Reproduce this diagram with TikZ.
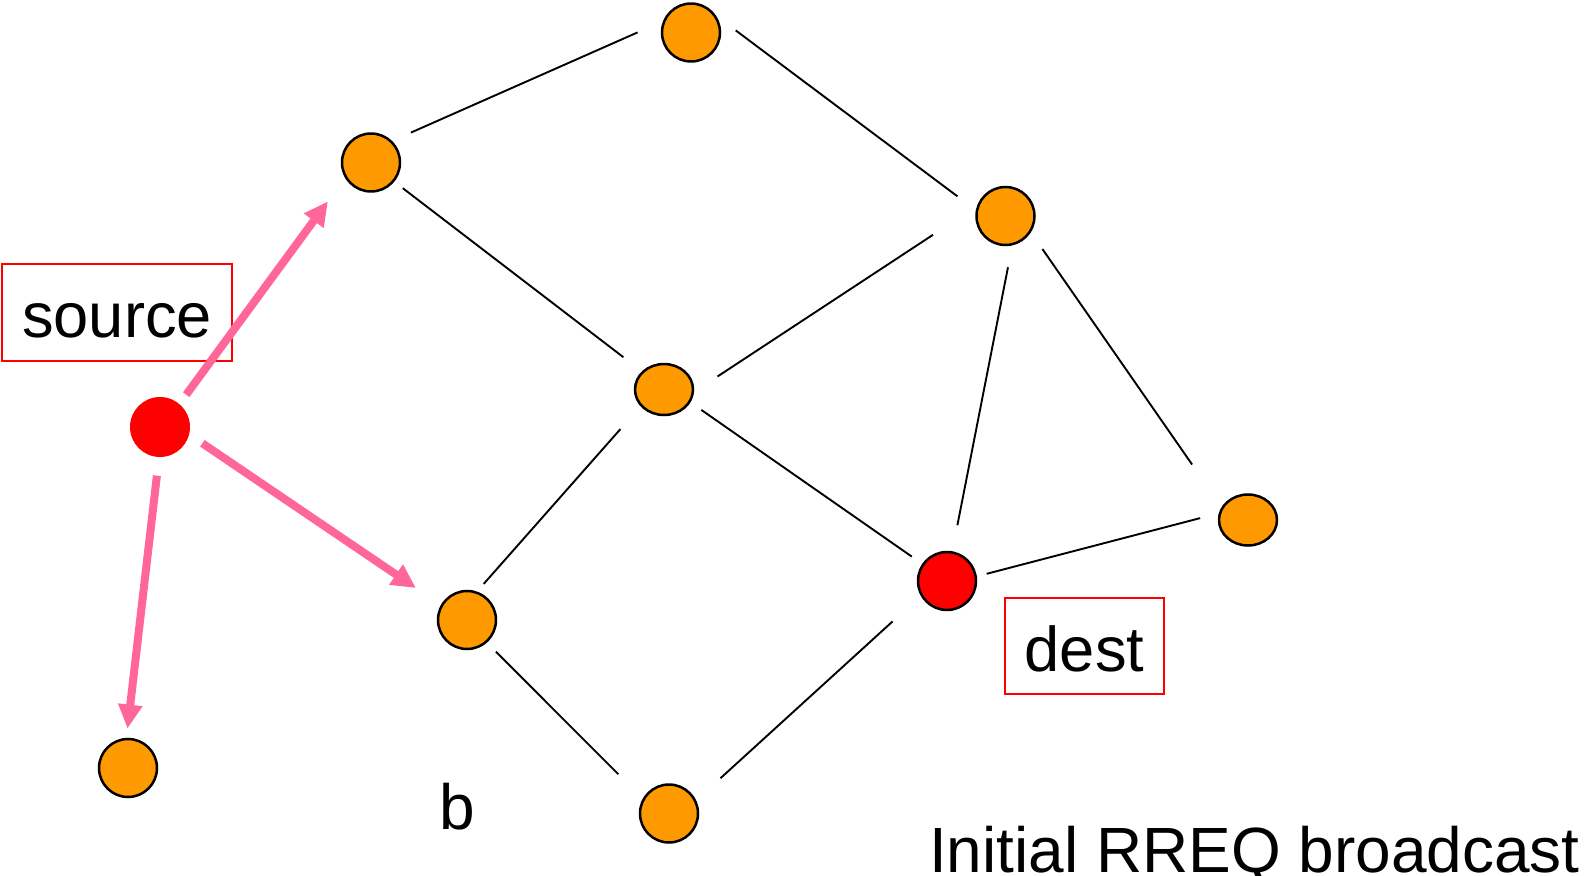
\documentclass[tikz,border=0pt]{standalone}
\usepackage{fontspec}
\setmainfont{Liberation Sans}
\usetikzlibrary{arrows.meta,shapes.geometric,calc}
\definecolor{nodeorange}{RGB}{255,153,0}
\definecolor{arrowpink}{RGB}{255,102,153}
\begin{document}
\begin{tikzpicture}[x=0.02cm,y=-0.02cm,
  host/.style={circle,draw=black,line width=0.05cm,fill=nodeorange,minimum size=1.16cm,inner sep=0pt},
  ovalhost/.style={ellipse,draw=black,line width=0.05cm,fill=nodeorange,minimum width=1.16cm,minimum height=1.02cm,inner sep=0pt},
  endpoint/.style={circle,fill=red,minimum size=1.2cm,inner sep=0pt},
  link/.style={draw=black,line width=0.038cm},
  flood/.style={draw=arrowpink,line width=0.16cm,-{Triangle[length=0.48cm,width=0.46cm]}},
  tag/.style={draw=red,line width=0.035cm,inner sep=0pt,text height=1.02cm,text depth=0cm,font=\fontsize{36}{43}\selectfont},
  caption/.style={font=\fontsize{36.4}{44}\selectfont,inner sep=0pt}
]
\useasboundingbox (0,0) rectangle (1587,876);

% hosts
\node[host] (T) at (691,32.5) {};
\node[host] (A) at (371,162.5) {};
\node[host] (RU) at (1005.5,216) {};
\node[ovalhost] (M) at (664,389.5) {};
\node[ovalhost] (FR) at (1248,520) {};
\node[host] (LL) at (467,620) {};
\node[host] (B) at (669,813.5) {};
\node[host] (BL) at (128,768) {};
\node[endpoint] (S) at (160,427) {};
\node[endpoint,draw=black,line width=0.05cm,minimum size=1.16cm] (D) at (947,581) {};

% labels
\node[tag,minimum width=4.6cm,minimum height=1.94cm] (srclabel) at (117,312.5) {source};
\node[tag,minimum width=3.18cm,minimum height=1.92cm] (dstlabel) at (1084.5,646) {dest};
\node[caption,anchor=base] (blabel) at (457,829) {b};
\node[caption,anchor=base east] (title) at (1580,872) {Initial RREQ broadcast};

% wireless links, each stopping short of the hosts it joins
\draw[link] ($(A)+(39.9,-29.9)$) -- ($(T)+(-53.4,-0.1)$);
\draw[link] ($(T)+(44.7,-2.1)$) -- ($(RU)+(-48.1,-19.7)$);
\draw[link] ($(A)+(31.8,25.7)$) -- ($(M)+(-40.6,-32.3)$);
\draw[link] ($(M)+(53.5,-13)$) -- ($(RU)+(-72.5,18.8)$);
\draw[link] ($(RU)+(2.5,51.2)$) -- ($(D)+(10.4,-55.8)$);
\draw[link] ($(RU)+(36.9,33)$) -- ($(FR)+(-55.9,-55.5)$);
\draw[link] ($(M)+(37.3,20.4)$) -- ($(D)+(-35.2,-24.4)$);
\draw[link] ($(M)+(-43.6,39.6)$) -- ($(LL)+(16.7,-36.1)$);
\draw[link] ($(D)+(39.7,-7.2)$) -- ($(FR)+(-47.8,-1.9)$);
\draw[link] ($(LL)+(28.9,31.7)$) -- ($(B)+(-50.7,-39.3)$);
\draw[link] ($(B)+(51.5,-35.3)$) -- ($(D)+(-54.4,40.4)$);

% RREQ flooded from the source
\draw[flood] ($(S)+(26.2,-32.3)$) -- ($(A)+(-43.1,38.9)$);
\draw[flood] ($(S)+(42.4,16.3)$) -- ($(LL)+(-51.1,-32)$);
\draw[flood] ($(S)+(-3.1,48.6)$) -- ($(BL)+(-0.5,-39.4)$);
\end{tikzpicture}
\end{document}
